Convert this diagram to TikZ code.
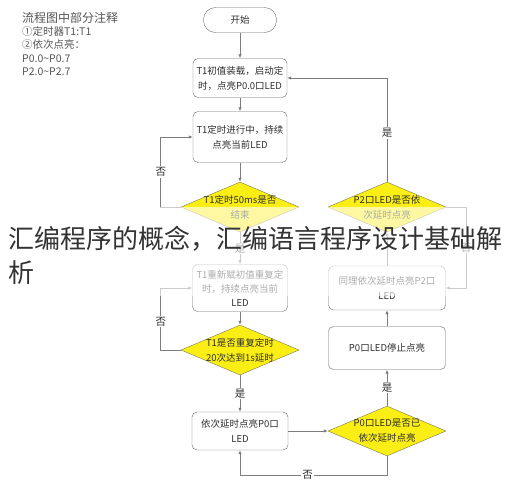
\documentclass[tikz,border=0pt]{standalone}
\usepackage{fontspec}
\setmainfont{Noto Sans CJK SC}
\usetikzlibrary{arrows.meta,shapes.geometric}
\definecolor{lineg}{RGB}{125,125,125}
\definecolor{boxg}{RGB}{105,105,105}
\definecolor{txtg}{RGB}{45,45,45}
\definecolor{noteg}{RGB}{85,85,85}
\definecolor{dyel}{RGB}{250,238,20}
\definecolor{dedge}{RGB}{125,120,85}
\tikzset{
	box/.style = {draw = boxg, rounded corners = 5pt, align = center, text = txtg, font = \fontsize{9.5}{15}\selectfont, inner sep = 2pt},
	terminal/.style = {draw = boxg, rounded corners = 12pt, minimum width = 73pt, minimum height = 25pt, text = txtg, font = \fontsize{9.5}{15}\selectfont},
	decision/.style = {draw = dedge, fill = dyel, shape = diamond, inner sep = 0pt, minimum width = 118pt, minimum height = 50pt},
	dtext/.style = {align = center, text = txtg, font = \fontsize{9.5}{15}\selectfont},
	flow/.style = {draw = lineg, line width = 0.8pt, -{Latex[length = 4pt, width = 3.5pt]}},
	yn/.style = {fill = white, inner sep = 1pt, text = txtg, font = \fontsize{10.5}{12}\selectfont}
}
\begin{document}
\begin{tikzpicture}[x = 1pt, y = -1pt]
	\useasboundingbox (0,0) rectangle (512,490);
	% notes
	\node[anchor = west, text = noteg, font = \fontsize{12}{14}\selectfont, inner sep = 0pt] (head) at (22,18) {流程图中部分注释};
	\node[anchor = north west, align = left, text = noteg, font = \fontsize{10.5}{13.6}\selectfont, inner sep = 0pt] (notes) at (22,26) {①定时器T1:T1\\②依次点亮：\\P0.0\textasciitilde P0.7\\P2.0\textasciitilde P2.7};
	% left column
	\node[terminal] (start) at (240,20) {开始};
	\node[box, minimum width = 94pt, minimum height = 39pt] (b1) at (240,78) {T1初值装载，启动定\\时，点亮P0.0口LED};
	\node[box, minimum width = 94pt, minimum height = 51pt] (b2) at (240,137) {T1定时进行中，持续\\点亮当前LED};
	\node[decision, label = {[dtext]center:{T1定时50ms是否\\结束}}] (d1) at (240,207) {};
	\node[box, minimum width = 95pt, minimum height = 47pt, font = \fontsize{9.5}{14}\selectfont] (b3) at (240,288) {T1重新赋初值重复定\\时，持续点亮当前\\LED};
	\node[decision, label = {[dtext]center:{T1是否重复定时\\20次达到1s延时}}] (d2) at (240,350) {};
	\node[box, minimum width = 96pt, minimum height = 38pt] (b4) at (240,431) {依次延时点亮P0口\\LED};
	% right column
	\node[decision, label = {[dtext]center:{P0口LED是否已\\依次延时点亮}}] (d3) at (387,431) {};
	\node[box, minimum width = 117pt, minimum height = 43pt] (b5) at (387,348) {P0口LED停止点亮};
	\node[box, minimum width = 117pt, minimum height = 44pt] (b6) at (387,288) {同理依次延时点亮P2口\\LED};
	\node[decision, label = {[dtext]center:{P2口LED是否依\\次延时点亮}}] (d4) at (387,207) {};
	% connectors
	\draw[flow] (start) -- (b1);
	\draw[flow] (b1) -- (b2);
	\draw[flow] (b2) -- (d1);
	\draw[flow] (d1.west) -- ++(-20,0) |- (b2.west) node[yn, pos = 0.25] {否};
	\draw[flow] (d1) -- node[yn] {是} (b3);
	\draw[flow] (b3) -- (d2);
	\draw[flow] (d2.west) -- ++(-20,0) |- (b3.west) node[yn, pos = 0.23] {否};
	\draw[flow] (d2) -- node[yn] {是} (b4);
	\draw[flow] (b4) -- (d3);
	\draw[flow] (d3.south) -- ++(0,19) -| (b4.south) node[yn, pos = 0.27] {否};
	\draw[flow] (d3) -- node[yn] {是} (b5);
	\draw[flow] (b5) -- (b6);
	\draw[flow] (b6) -- (d4);
	\draw[flow] (d4.east) -- ++(20,0) |- (b6.east) node[yn, pos = 0.25] {否};
	\draw[flow] (d4.north) |- (b1.east) node[yn, pos = 0.235] {是};
	% caption over the picture
	\fill[white, opacity = 0.6] (0,207) rectangle (512,296);
	\node[anchor = west, align = left, text = black!80, font = \fontsize{26}{34}\selectfont, inner sep = 0pt] (caption) at (8,255) {汇编程序的概念，汇编语言程序设计基础解\\析};
\end{tikzpicture}
\end{document}
